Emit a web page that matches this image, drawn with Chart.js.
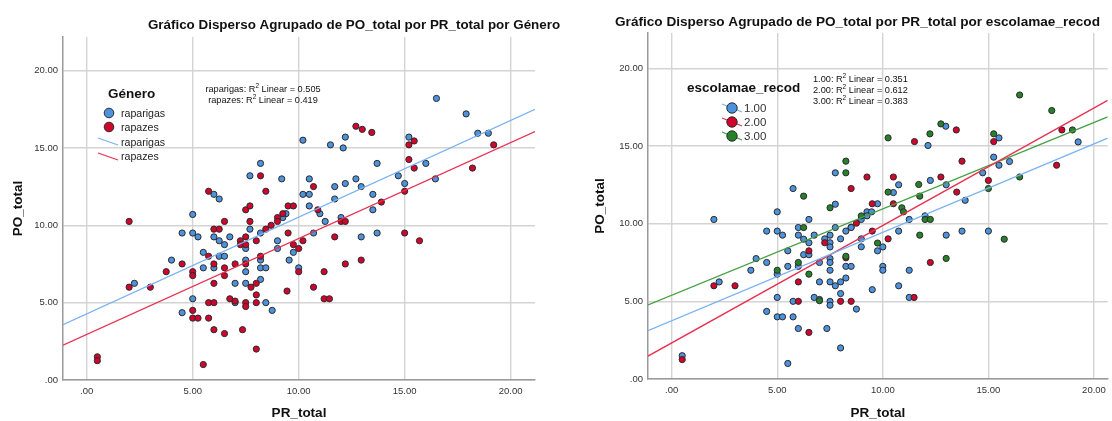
<!DOCTYPE html>
<html>
<head>
<meta charset="utf-8">
<script src="https://cdn.jsdelivr.net/npm/chart.js@4.4.0/dist/chart.umd.min.js"></script>
<style>
  html, body { margin: 0; padding: 0; background: #fff; overflow: hidden; }
  body { width: 1112px; height: 421px; position: relative; }
  #genero { position: absolute; left: 0; top: 0; }
  #escola { position: absolute; left: 580px; top: 0; }
</style>
</head>
<body>
<canvas id="genero" width="580" height="421"></canvas>
<canvas id="escola" width="532" height="421"></canvas>
<script>
/* scatter plots of PO_total vs PR_total, grouped by gender and by mother's schooling */

const FONT = '"Liberation Sans", Arial, sans-serif';

// axis ticks
const prTicks = [0, 5, 10, 15, 20];
const poTicks = [0, 5, 10, 15, 20];

// [PR_total, PO_total] by Género
const raparigas = [
  [16.5,18.2],[17.9,17.2],[18.45,15.95],[18.95,15.95],[10.2,15.5],[11.5,15.2],[12.2,15.7],[12.1,15.0],
  [15.2,15.7],[13.7,14.0],[16.0,14.0],[16.45,13.0],[14.7,13.2],[15.0,12.7],[9.2,13.0],[10.5,13.0],
  [12.2,12.7],[12.7,13.0],[11.7,12.5],[12.95,12.5],[10.2,12.0],[10.5,12.0],[11.7,11.7],[13.5,12.0],
  [10.5,11.25],[11.0,10.75],[13.5,11.0],[9.4,10.75],[9.25,10.5],[11.25,10.25],[12.0,10.5],[10.7,9.5],
  [12.95,9.25],[13.7,9.5],[9.75,8.25],[9.55,7.75],[10.0,7.25],[5.0,10.7],[8.2,14.0],[7.7,13.2],
  [6.0,12.0],[6.25,11.7],[7.7,9.75],[8.2,9.5],[4.5,9.5],[5.0,9.5],[5.25,9.25],[6.0,9.25],
  [6.75,9.25],[6.25,9.0],[6.5,8.75],[7.5,8.5],[9.0,9.0],[9.0,8.5],[5.5,8.25],[6.25,8.0],
  [6.5,8.0],[4.0,7.75],[5.5,7.25],[7.5,7.75],[8.2,7.75],[8.2,7.25],[8.45,7.25],[6.0,7.25],
  [7.5,7.0],[8.2,6.5],[7.0,6.25],[7.5,6.25],[2.25,6.25],[5.0,5.25],[4.5,4.35],[7.0,5.0],
  [8.45,5.0],[8.75,4.5]
];
const rapazes = [
  [12.7,16.4],[13.0,16.2],[13.45,16.0],[15.45,15.45],[15.2,15.2],[19.2,15.2],[15.2,14.25],[15.45,13.7],
  [18.2,13.7],[15.0,12.2],[10.7,12.5],[13.9,11.5],[9.5,11.25],[9.75,11.25],[10.9,11.0],[9.25,10.75],
  [12.0,10.25],[12.2,10.25],[11.7,9.25],[15.0,9.5],[15.7,9.0],[9.5,9.5],[9.75,8.75],[10.0,8.5],
  [10.2,9.0],[12.2,7.5],[12.95,7.75],[11.2,7.0],[10.0,7.0],[9.45,5.75],[10.7,6.0],[11.2,5.25],
  [11.45,5.25],[2.0,10.25],[8.2,13.2],[8.45,12.2],[5.75,12.2],[7.5,11.0],[7.7,11.25],[9.0,10.5],
  [9.0,10.25],[6.5,10.25],[7.7,10.25],[8.7,10.0],[8.45,9.75],[6.0,9.75],[6.25,9.75],[7.5,9.25],
  [7.25,9.0],[7.25,8.75],[7.5,8.75],[8.0,9.0],[5.75,8.0],[4.5,7.5],[6.0,7.5],[6.5,7.25],
  [7.0,7.5],[7.5,7.5],[8.2,8.0],[3.75,7.0],[5.0,7.0],[5.0,6.75],[6.5,6.75],[6.0,6.25],
  [7.75,6.0],[8.0,6.25],[8.0,5.5],[2.0,6.0],[3.0,6.0],[5.0,4.5],[5.0,4.0],[5.25,4.0],
  [5.75,5.0],[6.0,5.0],[5.75,4.0],[6.0,3.25],[6.5,3.0],[6.75,5.25],[7.0,5.1],[7.5,5.0],
  [7.5,4.75],[8.0,5.0],[7.35,3.25],[8.0,2.0],[5.5,1.0],[0.5,1.5],[0.5,1.25]
];

// [PR_total, PO_total] by escolamae_recod
const escola1 = [
  [12.98,16.27],[12.14,15.03],[15.5,15.52],[15.25,14.28],[19.25,15.26],[15.5,13.76],[16.0,14.0],[14.73,13.27],
  [10.75,12.5],[10.5,12.0],[12.25,12.78],[13.0,12.5],[13.9,11.5],[9.75,11.28],[9.25,10.76],[9.47,10.76],
  [9.25,10.5],[8.98,10.27],[8.5,9.77],[8.25,9.52],[8.0,9.02],[11.25,10.27],[12.0,10.5],[10.75,9.52],
  [8.98,9.02],[8.98,8.51],[13.0,9.26],[13.75,9.52],[15.0,9.52],[9.75,8.25],[10.0,8.5],[8.25,7.25],
  [8.5,7.25],[10.0,7.25],[10.0,7.0],[11.25,7.0],[8.0,6.25],[8.25,6.5],[8.0,5.5],[8.75,4.5],
  [9.5,5.75],[10.75,6.0],[11.25,5.25],[8.0,2.0],[7.75,13.27],[5.75,12.26],[7.75,11.25],[2.0,10.27],
  [5.0,10.76],[6.5,10.27],[4.5,9.52],[5.0,9.52],[5.25,9.26],[6.0,9.75],[6.0,9.26],[6.25,9.0],
  [6.75,9.26],[6.5,8.77],[7.75,9.75],[8.5,9.75],[7.25,9.02],[7.5,9.26],[7.5,8.77],[7.5,8.5],
  [5.5,8.25],[6.25,8.0],[6.5,8.0],[4.0,7.75],[4.5,7.5],[5.5,7.25],[6.0,7.25],[7.0,7.5],
  [7.5,7.75],[7.5,7.5],[3.75,7.0],[5.0,6.75],[7.5,7.0],[7.0,6.25],[7.5,6.25],[7.75,6.0],
  [2.25,6.25],[5.0,5.25],[5.75,5.0],[6.75,5.25],[7.0,5.12],[7.5,5.0],[7.5,4.75],[4.5,4.35],
  [5.0,4.0],[5.25,4.0],[5.75,4.0],[6.0,3.25],[7.35,3.25],[5.5,1.0],[0.5,1.5]
];
const escola2 = [
  [13.48,16.03],[11.5,15.28],[15.25,15.28],[18.48,16.03],[13.75,14.02],[18.23,13.76],[15.0,12.78],[9.25,13.0],
  [8.5,12.26],[10.5,13.0],[12.75,13.0],[13.5,12.03],[9.5,11.28],[10.5,11.28],[8.75,10.03],[9.5,9.52],
  [10.25,9.02],[8.25,7.8],[12.25,7.5],[8.0,5.0],[8.5,5.0],[11.48,5.25],[7.25,8.77],[6.5,8.25],
  [2.0,6.0],[3.0,6.0],[6.0,6.25],[6.0,5.0],[6.5,3.0],[0.5,1.25]
];
const escola3 = [
  [16.48,18.28],[18.0,17.28],[18.98,16.03],[12.75,16.42],[12.23,15.78],[10.25,15.52],[15.25,15.78],[15.0,12.26],
  [16.48,13.0],[8.25,14.02],[8.25,13.27],[10.25,12.03],[11.7,12.52],[11.75,11.77],[10.9,11.02],[10.98,10.76],
  [8.98,10.5],[12.0,10.27],[12.25,10.27],[11.75,9.26],[15.75,9.0],[9.75,8.75],[8.25,7.9],[13.0,7.76],
  [6.25,11.77],[7.5,11.02],[6.25,9.75],[6.0,7.5],[5.0,7.0],[6.5,6.75],[7.0,5.04]
];

// linear fits: [intercept, slope] and R2
const fitGenero = [[4.28, 0.625], [2.95, 0.62]];
const r2Genero = [0.505, 0.419];
const fitEscola = [[3.75, 0.569], [2.32, 0.756], [5.39, 0.556]];
const r2Escola = [0.351, 0.612, 0.383];

const BLUE = '#4d92dc', RED = '#d0042c', GREEN = '#27812a';
const BLUE_LINE = '#78b2f2', RED_LINE = '#e8304f', GREEN_LINE = '#45a045';

const fmt = v => v === 0 ? '.00' : v.toFixed(2);
const toPts = arr => arr.map(p => ({ x: p[0], y: p[1] }));

function pointSet(arr, color, order) {
  return {
    data: toPts(arr), order: order,
    backgroundColor: color, borderColor: '#2b2b2b', borderWidth: 1,
    pointRadius: 3.1, pointHoverRadius: 3.1
  };
}
function fitSet(fit, color, xmin, xmax) {
  return {
    data: [{ x: xmin, y: fit[0] + fit[1] * xmin }, { x: xmax, y: fit[0] + fit[1] * xmax }],
    showLine: true, pointRadius: 0, borderColor: color, borderWidth: 1.3, order: 0
  };
}

function axes(o) {
  return {
    x: {
      type: 'linear', min: o.xmin, max: o.xmax,
      afterBuildTicks: s => { s.ticks = prTicks.map(v => ({ value: v })); },
      afterFit: s => { s.height = o.xh; },
      grid: { color: '#d4d4d4', lineWidth: 1.4, drawTicks: false },
      border: { display: true, color: '#9a9a9a', width: 1.5 },
      ticks: { padding: 6, color: '#333', font: { family: FONT, size: 9.5 }, callback: fmt, maxRotation: 0, autoSkip: false },
      title: { display: true, text: 'PR_total', color: '#111', font: { family: FONT, size: 13.5, weight: 'bold' }, padding: { top: 0, bottom: 0 } }
    },
    y: {
      type: 'linear', min: 0, max: o.ymax,
      afterBuildTicks: s => { s.ticks = poTicks.map(v => ({ value: v })); },
      afterFit: s => { s.width = o.yw; },
      grid: { color: '#d4d4d4', lineWidth: 1.4, drawTicks: false },
      border: { display: true, color: '#9a9a9a', width: 1.5 },
      ticks: { padding: 5, color: '#333', font: { family: FONT, size: 9.5 }, callback: fmt, autoSkip: false },
      title: { display: true, text: 'PO_total', color: '#111', font: { family: FONT, size: 13.5, weight: 'bold' }, padding: { top: o.tp, bottom: 0 } }
    }
  };
}

// small drawing helpers for titles, legends and R2 notes
function dot(ctx, x, y, r, color) {
  ctx.beginPath();
  ctx.arc(x, y, r, 0, Math.PI * 2);
  ctx.fillStyle = color; ctx.fill();
  ctx.lineWidth = 1; ctx.strokeStyle = '#2b2b2b'; ctx.stroke();
}
function seg(ctx, x1, y1, x2, y2, color) {
  ctx.beginPath(); ctx.moveTo(x1, y1); ctx.lineTo(x2, y2);
  ctx.lineWidth = 1.3; ctx.strokeStyle = color; ctx.stroke();
}
function text(ctx, s, x, y, font, color, align) {
  ctx.font = font; ctx.fillStyle = color || '#111';
  ctx.textAlign = align || 'left'; ctx.textBaseline = 'middle';
  ctx.fillText(s, x, y);
}
function r2Note(ctx, name, value, x, y, align) {
  const a = name + ': R', b = '2', c = ' Linear = ' + value.toFixed(3);
  const big = '9.2px ' + FONT, small = '6.5px ' + FONT;
  ctx.font = big; const wa = ctx.measureText(a).width, wc = ctx.measureText(c).width;
  ctx.font = small; const wb = ctx.measureText(b).width;
  let x0 = align === 'center' ? x - (wa + wb + wc) / 2 : x;
  text(ctx, a, x0, y, big, '#111');
  text(ctx, b, x0 + wa, y - 3, small, '#111');
  text(ctx, c, x0 + wa + wb, y, big, '#111');
}

new Chart(document.getElementById('genero'), {
  type: 'scatter',
  data: {
    datasets: [
      fitSet(fitGenero[0], BLUE_LINE, -1.12, 21.15),
      fitSet(fitGenero[1], RED_LINE, -1.12, 21.15),
      pointSet(rapazes, RED, 1),
      pointSet(raparigas, BLUE, 2)
    ]
  },
  options: {
    responsive: false, animation: false, events: [],
    layout: { padding: { top: 37, left: 0, right: 45, bottom: 0 } },
    scales: axes({ xmin: -1.12, xmax: 21.15, ymax: 22.17, xh: 41, yw: 63, tp: 10 }),
    plugins: { legend: { display: false }, tooltip: { enabled: false } }
  },
  plugins: [{
    id: 'extras',
    afterDraw(chart) {
      const ctx = chart.ctx;
      ctx.save();
      text(ctx, 'Gráfico Disperso Agrupado de PO_total por PR_total por Género', 354, 25, 'bold 13.4px ' + FONT, '#111', 'center');
      text(ctx, 'Género', 108, 94, 'bold 13.5px ' + FONT, '#111');
      const lf = '10.6px ' + FONT;
      dot(ctx, 109, 113, 4.8, BLUE); text(ctx, 'raparigas', 121, 114, lf, '#222');
      dot(ctx, 109, 127, 4.8, RED); text(ctx, 'rapazes', 121, 128, lf, '#222');
      seg(ctx, 98, 138, 118, 145, BLUE_LINE); text(ctx, 'raparigas', 121, 143, lf, '#222');
      seg(ctx, 98, 153, 118, 160, RED_LINE); text(ctx, 'rapazes', 121, 157, lf, '#222');
      r2Note(ctx, 'raparigas', r2Genero[0], 263, 89, 'center');
      r2Note(ctx, 'rapazes', r2Genero[1], 263, 100, 'center');
      ctx.restore();
    }
  }]
});

new Chart(document.getElementById('escola'), {
  type: 'scatter',
  data: {
    datasets: [
      fitSet(fitEscola[0], BLUE_LINE, -1.12, 20.65),
      fitSet(fitEscola[1], RED_LINE, -1.12, 20.65),
      fitSet(fitEscola[2], GREEN_LINE, -1.12, 20.65),
      pointSet(escola3, GREEN, 1),
      pointSet(escola2, RED, 2),
      pointSet(escola1, BLUE, 3)
    ]
  },
  options: {
    responsive: false, animation: false, events: [],
    layout: { padding: { top: 33, left: 0, right: 0, bottom: 0 } },
    scales: axes({ xmin: -1.12, xmax: 20.65, ymax: 22.27, xh: 42, yw: 68, tp: 12 }),
    plugins: { legend: { display: false }, tooltip: { enabled: false } }
  },
  plugins: [{
    id: 'extras',
    afterDraw(chart) {
      const ctx = chart.ctx;
      ctx.save();
      text(ctx, 'Gráfico Disperso Agrupado de PO_total por PR_total por escolamae_recod', 277.5, 22, 'bold 13.6px ' + FONT, '#111', 'center');
      text(ctx, 'escolamae_recod', 107, 88, 'bold 13.5px ' + FONT, '#111');
      const groups = [['1.00', BLUE, BLUE_LINE], ['2.00', RED, RED_LINE], ['3.00', GREEN, GREEN_LINE]];
      groups.forEach((g, i) => {
        const y = 108 + i * 14;
        seg(ctx, 142, y - 4, 162, y + 4, g[2]);
        dot(ctx, 152, y, 5.2, g[1]);
        text(ctx, g[0], 164, y + 1, '11.5px ' + FONT, '#333');
      });
      ['1.00', '2.00', '3.00'].forEach((n, i) => r2Note(ctx, n, r2Escola[i], 233, 79 + i * 11, 'left'));
      ctx.restore();
    }
  }]
});
</script>
</body>
</html>
